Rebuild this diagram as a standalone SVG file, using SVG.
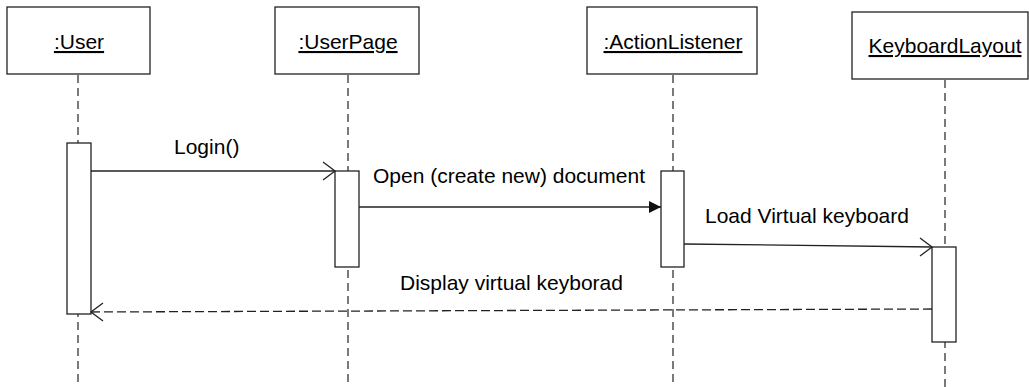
<svg xmlns="http://www.w3.org/2000/svg" width="1029" height="387" viewBox="0 0 1029 387">
  <style>
    .box { fill: #fff; stroke: #222; stroke-width: 1.3; }
    .life { stroke: #222; stroke-width: 1.2; stroke-dasharray: 8 5; fill: none; }
    .act { fill: #fff; stroke: #222; stroke-width: 1.3; }
    .msg { stroke: #222; stroke-width: 1.3; fill: none; }
    .ret { stroke: #222; stroke-width: 1.3; fill: none; stroke-dasharray: 9 4; }
    .head { stroke: #222; stroke-width: 1.3; fill: none; }
    .label { font-family: "Liberation Sans", Arial, sans-serif; font-size: 21px; fill: #000; }
    .name { font-family: "Liberation Sans", Arial, sans-serif; font-size: 21px; fill: #000; text-anchor: middle; text-decoration: underline; }
  </style>
  <defs>
    <marker id="solidHead" markerWidth="13" markerHeight="13" refX="12" refY="6" orient="auto" markerUnits="userSpaceOnUse">
      <path d="M0,0 L12,6 L0,12 Z" fill="#111"/>
    </marker>
  </defs>
  <rect width="1029" height="387" fill="#fff"/>

  <!-- lifelines -->
  <g id="lifelines">
    <line class="life" x1="78" y1="75" x2="78" y2="387"/>
    <line class="life" x1="348" y1="75" x2="348" y2="387"/>
    <line class="life" x1="673" y1="75" x2="673" y2="387"/>
    <line class="life" x1="945" y1="80" x2="945" y2="387"/>
  </g>

  <!-- participants -->
  <g id="user">
    <rect class="box" x="7" y="7" width="143" height="67"/>
    <text class="name" x="79" y="49">:User</text>
    <rect class="act" x="67" y="143" width="24" height="171"/>
  </g>
  <g id="userPage">
    <rect class="box" x="275" y="7" width="144" height="67"/>
    <text class="name" x="348" y="49">:UserPage</text>
    <rect class="act" x="335" y="171" width="24" height="96"/>
  </g>
  <g id="actionListener">
    <rect class="box" x="587" y="7" width="170" height="67"/>
    <text class="name" x="673" y="49">:ActionListener</text>
    <rect class="act" x="661" y="171" width="23" height="96"/>
  </g>
  <g id="keyboardLayout">
    <rect class="box" x="852" y="12" width="176" height="67"/>
    <text class="name" x="945" y="53">KeyboardLayout</text>
    <rect class="act" x="932" y="247" width="24" height="95"/>
  </g>

  <!-- messages -->
  <g id="connectors">
    <line class="msg" x1="91" y1="171" x2="335" y2="171"/>
    <polyline class="head" points="323,162 335,171 323,180"/>
    <line class="msg" x1="359" y1="207" x2="661" y2="207" marker-end="url(#solidHead)"/>
    <line class="msg" x1="684" y1="244" x2="932" y2="247"/>
    <polyline class="head" points="920,238 932,247 920,256"/>
    <line class="ret" x1="932" y1="309" x2="91" y2="312"/>
    <polyline class="head" points="103,303 91,312 103,321"/>
  </g>

  <!-- message labels -->
  <g id="labels">
    <text class="label" x="174" y="154">Login()</text>
    <text class="label" x="373" y="183">Open (create new) document</text>
    <text class="label" x="705" y="223">Load Virtual keyboard</text>
    <text class="label" x="400" y="290">Display virtual keyborad</text>
  </g>
</svg>
